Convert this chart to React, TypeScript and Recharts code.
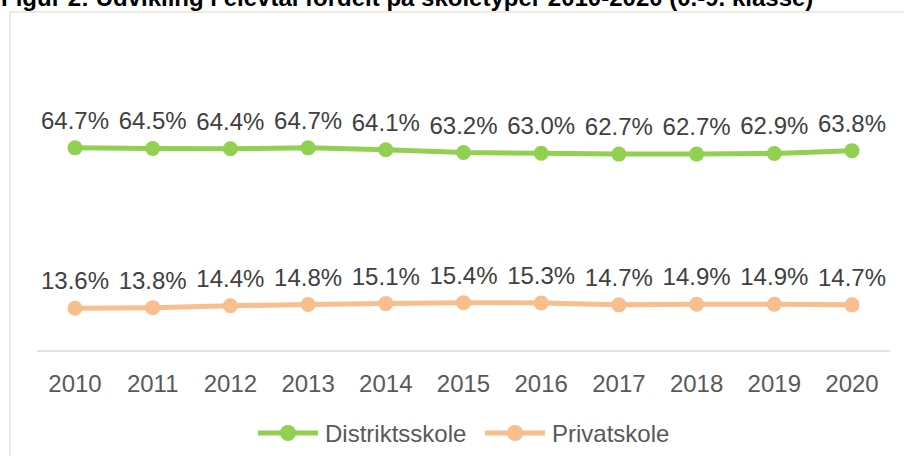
import React from 'react';
import { LineChart, Line, XAxis, YAxis, Legend, LabelList } from 'recharts';

const YEARS = ['2010', '2011', '2012', '2013', '2014', '2015', '2016', '2017', '2018', '2019', '2020'];
const DISTRIKTSSKOLE = [64.7, 64.5, 64.4, 64.7, 64.1, 63.2, 63.0, 62.7, 62.7, 62.9, 63.8];
const PRIVATSKOLE = [13.6, 13.8, 14.4, 14.8, 15.1, 15.4, 15.3, 14.7, 14.9, 14.9, 14.7];

const GREEN = '#92D050';
const ORANGE = '#F8BE8C';
const FONT = '"Liberation Sans", Arial, sans-serif';

const data = YEARS.map((year, i) => ({
  year,
  distrikt: DISTRIKTSSKOLE[i],
  privat: PRIVATSKOLE[i],
}));

const fmt = (v: unknown) => `${Number(v).toFixed(1)}%`;

const LegendContent = () => {
  const items = [
    { label: 'Distriktsskole', color: GREEN, x: 258 },
    { label: 'Privatskole', color: ORANGE, x: 485 },
  ];
  return (
    <svg width={904} height={30}>
      {items.map((it) => (
        <g key={it.label}>
          <line x1={it.x} x2={it.x + 60} y1={15} y2={15} stroke={it.color} strokeWidth={5} />
          <circle cx={it.x + 30} cy={15} r={8} fill={it.color} />
          <text x={it.x + 67} y={23.5} fontSize={24} fill="#595959" fontFamily={FONT}>
            {it.label}
          </text>
        </g>
      ))}
    </svg>
  );
};

export default function App() {
  return (
    <div style={{ position: 'absolute', left: 0, top: 0, width: 904, height: 456, overflow: 'hidden', background: '#fff' }}>
      {/* title is clipped at the top edge in the original as well */}
      <div
        style={{
          position: 'absolute',
          left: 1,
          top: -16,
          fontFamily: FONT,
          fontWeight: 'bold',
          fontSize: 24,
          whiteSpace: 'nowrap',
          color: '#000',
        }}
      >
        Figur 2: Udvikling i elevtal fordelt på skoletyper 2010-2020 (0.-9. klasse)
      </div>
      <div
        style={{
          position: 'absolute',
          left: 9,
          top: 11,
          width: 904,
          height: 460,
          borderLeft: '2px solid #EEECE1',
          borderTop: '2px solid #EEECE1',
        }}
      />
      <div style={{ position: 'absolute', left: 0, top: 0 }}>
        <LineChart width={904} height={456} data={data} margin={{ top: 37, right: 14, bottom: 75, left: 37 }}>
          <XAxis
            dataKey="year"
            axisLine={{ stroke: '#D9D9D9', strokeWidth: 1.5 }}
            tickLine={false}
            tickMargin={18}
            height={30}
            padding={{ left: 38, right: 38 }}
            tick={{ fontSize: 24, fill: '#595959', fontFamily: FONT }}
            interval={0}
          />
          <YAxis hide domain={[0, 100]} />
          <Legend
            verticalAlign="middle"
            align="center"
            layout="horizontal"
            wrapperStyle={{ top: 418, left: 0, width: 904 }}
            content={() => <LegendContent />}
          />
          <Line
            dataKey="distrikt"
            stroke={GREEN}
            strokeWidth={5}
            dot={{ r: 7.5, fill: GREEN, stroke: GREEN, strokeWidth: 0 }}
            isAnimationActive={false}
          >
            <LabelList dataKey="distrikt" position="top" offset={19} formatter={fmt} fontSize={24} fill="#404040" fontFamily={FONT} />
          </Line>
          <Line
            dataKey="privat"
            stroke={ORANGE}
            strokeWidth={5}
            dot={{ r: 7.5, fill: ORANGE, stroke: ORANGE, strokeWidth: 0 }}
            isAnimationActive={false}
          >
            <LabelList dataKey="privat" position="top" offset={19} formatter={fmt} fontSize={24} fill="#404040" fontFamily={FONT} />
          </Line>
        </LineChart>
      </div>
    </div>
  );
}
